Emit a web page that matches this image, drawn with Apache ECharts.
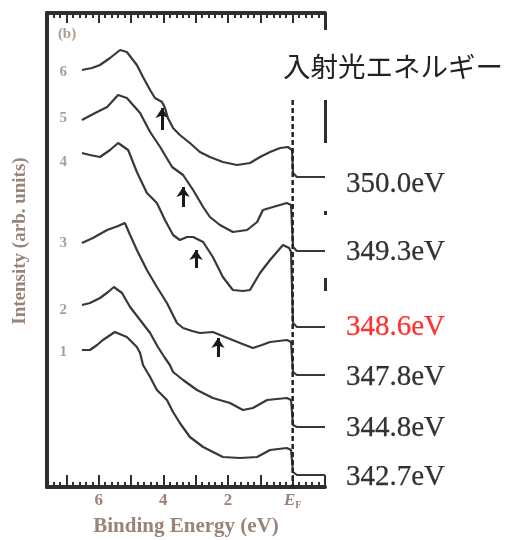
<!DOCTYPE html>
<html><head><meta charset="utf-8">
<script src="https://cdn.jsdelivr.net/npm/echarts@6/dist/echarts.min.js"></script>
<style>html,body{margin:0;padding:0;background:#fff}#c{width:508px;height:540px}</style>
</head><body><div id="c"></div>
<script>
// Binding energy (eV) vs intensity (arb. units); each curve offset vertically
const curve6 = [[6.52,417],[6.21,419],[5.96,422],[5.65,429],[5.34,437],[5.13,435],[4.82,422],[4.63,410],[4.41,397],[4.26,389],[4.04,385],[3.95,379],[3.86,369],[3.70,359],[3.49,352],[3.18,344],[2.87,335],[2.56,330],[2.16,325],[1.72,322],[1.32,324],[1.01,330],[0.70,335],[0.39,339],[0.15,340],[0.02,337],[-0.01,314],[-0.13,310],[-1.0,310]];
const curve5 = [[6.52,367],[6.11,374],[5.74,380],[5.40,392],[5.13,389],[4.72,374],[4.41,355],[4.10,340],[3.73,320],[3.39,312],[3.08,297],[2.77,280],[2.56,270],[2.25,262],[1.85,255],[1.41,257],[1.10,265],[0.92,277],[0.61,280],[0.18,284],[0.05,282],[-0.01,240],[-0.13,236],[-1.0,236]];
const curve4 = [[6.52,334],[6.27,332],[5.96,330],[5.65,337],[5.40,344],[5.09,337],[4.82,315],[4.51,294],[4.20,284],[3.95,267],[3.70,252],[3.49,247],[3.27,250],[3.08,250],[2.77,245],[2.47,230],[2.16,210],[1.85,197],[1.54,196],[1.32,197],[1.01,214],[0.70,227],[0.30,242],[0.11,239],[0.05,235],[-0.01,164],[-0.13,160],[-1.0,160]];
const curve3 = [[6.52,244],[6.18,249],[5.74,257],[5.40,261],[5.19,264],[5.03,252],[4.82,237],[4.51,217],[4.20,200],[3.89,184],[3.58,164],[3.39,159],[3.11,156],[2.87,154],[2.47,155],[2.09,150],[1.63,144],[1.23,139],[0.95,142],[0.70,145],[0.18,147],[0.05,145],[-0.01,115],[-0.13,112],[-1.0,112]];
const curve2 = [[6.52,182],[6.27,184],[5.96,189],[5.71,195],[5.53,200],[5.28,194],[5.03,180],[4.72,167],[4.41,154],[4.17,140],[3.95,129],[3.80,122],[3.70,115],[3.39,107],[2.96,97],[2.47,89],[1.94,84],[1.54,77],[1.23,79],[0.79,87],[0.18,89],[0.05,87],[-0.01,62],[-0.13,60],[-1.0,60]];
const curve1 = [[6.52,137],[6.27,137],[6.05,142],[5.87,147],[5.50,155],[5.13,150],[4.82,140],[4.72,134],[4.63,122],[4.41,110],[4.20,97],[3.89,87],[3.70,75],[3.49,64],[3.18,50],[2.77,40],[2.16,30],[1.63,29],[1.10,30],[0.70,37],[0.18,39],[0.05,37],[-0.01,15],[-0.13,12],[-1.0,12]];

const curveNames = ['6','5','4','3','2','1'];
const curveNameY = [415,369,325,244,177,135];
const curveNameE = 7.10;
const panelLabel = '(b)';
const panelLabelPos = [6.98,453];

const photonLabels = ['350.0eV','349.3eV','348.6eV','347.8eV','344.8eV','342.7eV'];
const photonLabelY = [303,235,160,110,59,10];
const photonColors = ['#000','#000','#ff0000','#000','#000','#000'];

const arrowE = [4.04,3.39,2.99,2.31];
const arrowFrom = [357,280,219,130];
const arrowTo = [379,300,237,149];

const efLine = [[0,387],[0,0]];
const rightSegs = [[[-1,474],[-1,457]],[[-1,387],[-1,344]],[[-1,276],[-1,272]],[[-1,209],[-1,196]]];

const xTickLabels = {6:'6',4:'4',2:'2',0:'{e|E}{f|F}'};
const xName = 'Binding Energy (eV)';
const yName = 'Intensity (arb. units)';
const title = '入射光エネルギー';

const ink = '#2e2e2e';
const blur = '#9a8378';
const chart = echarts.init(document.getElementById('c'), null, {renderer:'canvas'});
const curves = [curve6,curve5,curve4,curve3,curve2,curve1];

const series = curves.map(d => ({
  type:'line', data:d, symbol:'none', animation:false, silent:true,
  lineStyle:{color:'#383838', width:2.2}
}));
series.push({
  type:'line', data:efLine, symbol:'none', animation:false,
  lineStyle:{color:'#222', width:2.5, type:[5,3]}
});
series.push({
  type:'lines', coordinateSystem:'cartesian2d', animation:false,
  data: rightSegs.map(c => ({coords:c})),
  lineStyle:{color:ink, width:3, opacity:1}
});
series.push({
  type:'lines', coordinateSystem:'cartesian2d', animation:false,
  symbol:['none','arrow'], symbolSize:[9,10],
  data: arrowE.map((e,i) => ({coords:[[e,arrowFrom[i]],[e,arrowTo[i]]]})),
  lineStyle:{color:'#1a1a1a', width:3, opacity:1}
});
series.push({
  type:'scatter', clip:false, symbolSize:0, animation:false,
  data: photonLabels.map((t,i) => ({value:[-1,photonLabelY[i]], name:t,
    label:{color:photonColors[i], textBorderColor:photonColors[i]}})),
  label:{show:true, position:'right', distance:21, formatter:'{b}',
    fontFamily:'Liberation Serif', fontSize:29, color:'#000',
    textBorderWidth:0.25, textBorderColor:'#000'}
});
series.push({
  type:'scatter', clip:false, symbolSize:0, animation:false,
  data: curveNames.map((t,i) => ({value:[curveNameE,curveNameY[i]], name:t}))
    .concat([{value:panelLabelPos, name:panelLabel}]),
  label:{show:true, position:'inside', formatter:'{b}',
    fontFamily:'Liberation Serif', fontWeight:'bold', fontSize:15, color:blur}
});

const baseX = {
  type:'value', min:-1, max:7.6, inverse:true, interval:1,
  splitLine:{show:false},
  axisLine:{show:true, onZero:false, lineStyle:{color:ink, width:4}},
  axisTick:{show:true, inside:true, length:12, lineStyle:{color:ink, width:2}},
  minorTick:{show:true, splitNumber:5, length:5, lineStyle:{color:ink, width:2}},
  minorSplitLine:{show:false}
};

chart.setOption({
  animation:false,
  grid:{left:47, right:183, top:13, bottom:53, outerBoundsMode:'none', containLabel:false},
  xAxis:[
    Object.assign({}, baseX, {position:'bottom',
      name:xName, nameLocation:'middle', nameGap:29,
      nameTextStyle:{fontFamily:'Liberation Serif', fontWeight:'bold', fontSize:21, color:blur},
      axisLabel:{show:true, margin:5, fontFamily:'Liberation Serif', fontWeight:'bold', fontSize:17, color:blur,
        formatter: v => xTickLabels[v] !== undefined && Math.abs(v-Math.round(v))<1e-9 ? xTickLabels[v] : '',
        rich:{e:{fontFamily:'Liberation Serif', fontStyle:'italic', fontWeight:'bold', fontSize:17, color:blur},
              f:{fontFamily:'Liberation Serif', fontWeight:'bold', fontSize:10, color:blur, padding:[8,0,0,0]}}}
    }),
    Object.assign({}, baseX, {position:'top', axisLabel:{show:false},
      axisTick:{show:true, inside:true, length:10, lineStyle:{color:ink, width:2}}})
  ],
  yAxis:{type:'value', min:0, max:474, position:'left',
    axisLine:{show:true, onZero:false, lineStyle:{color:ink, width:4}},
    axisTick:{show:false}, axisLabel:{show:false}, splitLine:{show:false}},
  series: series,
  graphic:[
    {type:'text', x:20, y:241, rotation:Math.PI/2,
     style:{text:yName, fontFamily:'Liberation Serif', fontWeight:'bold', fontSize:19, fill:blur,
       textAlign:'center', textVerticalAlign:'middle'}},
    {type:'text', left:283, top:53,
     style:{text:title, fontFamily:'Noto Sans CJK JP', fontSize:27.5, fill:'#222'}}
  ]
});
</script>
</body></html>
